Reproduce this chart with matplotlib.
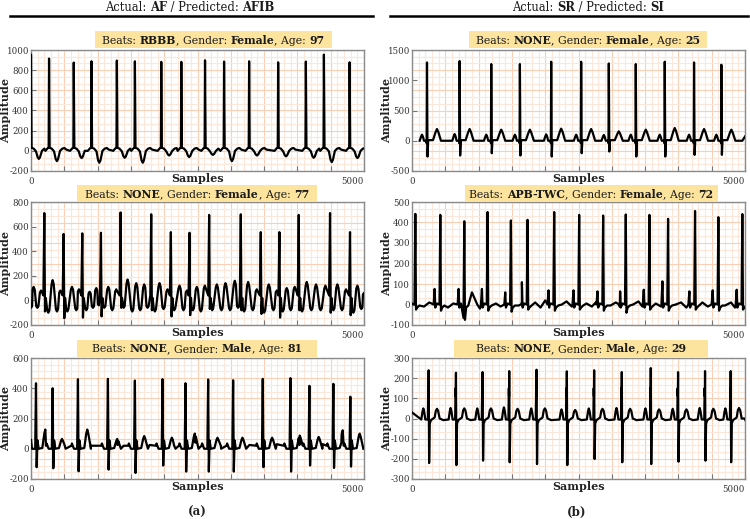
import numpy as np
import matplotlib
matplotlib.use("Agg")
import matplotlib.pyplot as plt
from matplotlib.patches import Rectangle
from matplotlib.lines import Line2D

plt.rcParams['font.family'] = ['DejaVu Serif']
plt.rcParams['axes.unicode_minus'] = False

# ---------------- data ----------------
col_titles = [("AF", "AFIB"), ("SR", "SI")]
panel_info = [  # (beats, gender, age)
    ("RBBB", "Female", "97"), ("NONE", "Female", "25"),
    ("NONE", "Female", "77"), ("APB-TWC", "Female", "72"),
    ("NONE", "Male", "81"), ("NONE", "Male", "29"),
]
yticks_list = [
    [-200, 0, 200, 400, 600, 800, 1000], [-500, 0, 500, 1000, 1500],
    [-200, 0, 200, 400, 600, 800], [-100, 0, 100, 200, 300, 400, 500],
    [-200, 0, 200, 400, 600], [-300, -200, -100, 0, 100, 200, 300],
]
sub_labels = ["(a)", "(b)"]

# Panel A1 (AF, RBBB)
A1_r_t = [0, 271, 642, 908, 1289, 1560, 1956, 2257, 2613, 2899, 3275, 3711, 4127, 4398, 4784]
A1_r_amp = [955, 915, 875, 888, 895, 888, 882, 882, 898, 885, 888, 878, 885, 954, 878]
A1_dip = [-80, -102, -72, -118, -69, -118, -46, -62, -40, -102, -46, -55, -69, -112, -72]

# Panel A2 (AF, NONE, 77)
A2_r_t = [200, 490, 770, 1050, 1345, 1805, 2100, 2380, 2675, 3150, 3450, 3730, 4020, 4490, 4790]
A2_r_amp = [710, 540, 545, 550, 715, 700, 555, 550, 695, 700, 555, 555, 695, 710, 555]
A2_s = [-90, -145, -140, -130, -60, -80, -130, -120, -70, -80, -110, -140, -80, -100, -120]
A2_f_t = [0, 40, 95, 150, 260, 325, 390, 440, 545, 615, 680, 720, 830, 880, 930, 980, 1020,
          1100, 1160, 1220, 1280, 1390, 1450, 1520, 1580, 1640, 1700, 1750, 1860, 1930, 1990,
          2050, 2150, 2230, 2290, 2340, 2430, 2490, 2550, 2610, 2720, 2790, 2860, 2920, 2990,
          3060, 3110, 3200, 3260, 3330, 3390, 3500, 3570, 3640, 3690, 3780, 3840, 3900, 3960,
          4070, 4140, 4210, 4280, 4350, 4420, 4540, 4600, 4670, 4730, 4840, 4900, 4960, 5000]
A2_f_v = [-60, 110, -60, 80, -100, 165, -90, 80, -90, 110, -80, 90, -80, 70, -60, 100, -40,
          -60, 110, -80, 90, -60, 170, -90, 140, -80, 130, -60, -90, 140, -70,
          90, -80, 120, -80, 80, -80, 110, -90, 120, -80, 130, -80, 140, -80,
          160, -60, -90, 150, -80, 90, -100, 130, -80, 80, -90, 100, -80, 110,
          -90, 150, -80, 130, -80, 120, -80, 130, -80, 90, -100, 120, -70, 60]

# Panel A3 (AF, NONE, 81)
A3_r_t = [75, 325, 705, 1155, 1560, 1975, 2320, 2660, 3035, 3480, 3895, 4180, 4540, 4795]
A3_r_amp = [433, 400, 460, 462, 451, 460, 433, 458, 453, 462, 467, 416, 429, 344]
A3_s = [-122, -129, -149, -138, -160, -111, -151, -151, -151, -122, -151, -111, -127, -118]
A3_tw = [127, 65, 127, 65, 84, 73, 100, 73, 73, 73, 87, 78, 122, 100]
A3_x_t = [0, 500, 900, 1300, 1390, 1780, 2150, 2470, 2850, 3280, 3690, 4030, 4380, 4660]
A3_x_v = [60, 30, 20, 25, 20, 25, 20, 40, 20, 25, 30, 25, 30, 40]

# Panel B1 (SR, NONE, 25)
B1_r_t = [225, 715, 1190, 1620, 2090, 2540, 2955, 3360, 3795, 4235, 4645]
B1_r_amp = [1294, 1317, 1267, 1267, 1306, 1306, 1278, 1267, 1306, 1294, 1256]
B1_s = [-261, -244, -206, -244, -261, -206, -178, -261, -261, -233, -233]
B1_tw = [194, 194, 183, 183, 200, 194, 156, 183, 211, 194, 183]
B1_pw = [100, 110, 100, 100, 105, 100, 95, 100, 100, 100, 100]
B1_x_t = [4960, 5000]
B1_x_v = [0, 70]

# Panel B2 (SR, APB-TWC, 72)
B2_r_t = [50, 425, 785, 1135, 1485, 1735, 2135, 2510, 2870, 3210, 3565, 3845, 4250, 4600, 4960]
B2_r_amp = [442, 437, 406, 451, 410, 413, 451, 437, 434, 439, 437, 418, 456, 426, 441]
B2_pre = [59, 76, 76, 76, 59, 109, 69, 69, 64, 64, 72, 113, 64, 69, 72]
B2_q = [0, 0, -65, 0, 0, 0, 0, 0, 0, 0, 0, 0, 0, 0, 0]
B2_s = [-25, -30, -75, -30, -35, -25, -30, -25, -30, -40, -25, -30, -25, -30, -25]
B2_x_t = [180, 260, 540, 620, 900, 980, 1020, 1260, 1330, 1390, 1600, 1650, 1850, 1930,
          2000, 2060, 2250, 2320, 2400, 2620, 2700, 2760, 2980, 3060, 3120, 3320, 3400,
          3460, 3660, 3740, 3960, 4040, 4120, 4170, 4360, 4440, 4500, 4700, 4790, 4850]
B2_x_v = [-10, 10, -15, 5, 59, 0, -20, 5, -10, 15, -5, 10, 10, -15,
          20, -5, 0, 15, -10, 5, -10, 10, -5, 10, -10, 0, 15,
          -10, 5, -10, 0, 10, -15, 5, 10, -10, 5, -5, 10, -15]

# Panel B3 (SR, NONE, 29)
B3_r_t = [250, 660, 1060, 1460, 1870, 2325, 2735, 3150, 3585, 3995, 4400, 4785]
B3_r_amp = [239, 227, 230, 235, 242, 234, 239, 230, 250, 230, 235, 235]
B3_s = [-221, -231, -209, -217, -226, -231, -201, -217, -226, -214, -209, -217]
B3_pw = [50, 52, 50, 55, 50, 45, 50, 52, 50, 48, 52, 50]
B3_tw = [48, 50, 50, 48, 50, 42, 48, 48, 45, 45, 48, 52]
B3_x_t = [0, 4990]
B3_x_v = [30, 0]


# ---------------- waveform assembly ----------------
def assemble(r_t, parts, ex_t=(), ex_v=(), head=-130, guard=(-30, 40), shoulder=0):
    pts = []
    n = len(r_t)
    for i, t in enumerate(r_t):
        prev_t = r_t[i - 1] if i > 0 else -1e9
        next_t = r_t[i + 1] if i < n - 1 else 1e9
        for off, val in parts(i):
            tt = t + off
            if off < 0 and tt <= prev_t + guard[1]:
                continue
            if off > 0 and tt >= next_t + head:
                continue
            pts.append((tt, val))
    for tt, v in zip(ex_t, ex_v):
        if any(t + guard[0] < tt < t + guard[1] for t in r_t):
            continue
        if shoulder:
            for d, f in ((-shoulder, 0.8), (0, 1.0), (shoulder, 0.8)):
                if not any(t + guard[0] < tt + d < t + guard[1] for t in r_t):
                    pts.append((tt + d, v * f))
        else:
            pts.append((tt, v))
    pts.sort()
    arr = np.array(pts, dtype=float)
    return arr[:, 0], arr[:, 1]


def p_A1(i):
    R, D = A1_r_amp[i], A1_dip[i]
    return [(-55, 0), (-22, 25), (-6, 30), (0, R), (9, 30), (40, 22), (75, -5),
            (100, D * 0.8), (118, D), (135, D * 0.8), (165, 0), (200, 22), (230, 28), (260, 12)]


def p_A2(i):
    return [(-14, 40), (0, A2_r_amp[i]), (10, A2_s[i]), (22, 20)]


def p_A3(i):
    return [(-100, 20), (-90, 35), (-78, 20), (-60, 0), (-12, 0), (0, A3_r_amp[i]),
            (10, A3_s[i]), (22, 55), (40, 0), (95, 5), (125, A3_tw[i] * 0.8),
            (140, A3_tw[i]), (155, A3_tw[i] * 0.8), (195, 0)]


def p_B1(i):
    return [(-110, 0), (-88, B1_pw[i] * 0.7), (-75, B1_pw[i]), (-62, B1_pw[i] * 0.7),
            (-45, 0), (-10, 0), (-5, -40), (0, B1_r_amp[i]), (8, B1_s[i]), (18, 10),
            (90, 10), (130, B1_tw[i] * 0.75), (150, B1_tw[i]), (170, B1_tw[i] * 0.75), (210, 0)]


def p_B2(i):
    return [(-100, 0), (-85, B2_pre[i]), (-75, -15), (-50, 5), (-12, B2_q[i]),
            (0, B2_r_amp[i]), (10, B2_s[i]), (28, -15), (60, -5)]


def p_B3(i):
    return [(-110, -5), (-92, B3_pw[i] * 0.7), (-80, B3_pw[i]), (-68, B3_pw[i] * 0.7),
            (-50, -5), (-12, -5), (-6, 150), (-3, 110), (0, B3_r_amp[i]), (7, B3_s[i]),
            (16, -25), (35, -8), (90, 5), (108, B3_tw[i] * 0.8), (125, B3_tw[i]),
            (142, B3_tw[i] * 0.8), (165, 0), (220, -8)]


traces = [
    assemble(A1_r_t, p_A1, head=-70),
    assemble(B1_r_t, p_B1, B1_x_t, B1_x_v),
    assemble(A2_r_t, p_A2, A2_f_t, A2_f_v, head=-20, guard=(-20, 30), shoulder=16),
    assemble(B2_r_t, p_B2, B2_x_t, B2_x_v),
    assemble(A3_r_t, p_A3, A3_x_t, A3_x_v, head=-105),
    assemble(B3_r_t, p_B3, B3_x_t, B3_x_v),
]

# ---------------- layout ----------------
W, H = 750, 519
fig = plt.figure(figsize=(W / 100, H / 100), dpi=100)
renderer = fig.canvas.get_renderer()


def fx(px):
    return px / W


def fy(py):
    return 1 - py / H


def text_width(s, size, weight):
    t1 = fig.text(0, 0, '|' + s + '|', fontsize=size, fontweight=weight)
    t2 = fig.text(0, 0, '||', fontsize=size, fontweight=weight)
    w = t1.get_window_extent(renderer).width - t2.get_window_extent(renderer).width
    t1.remove()
    t2.remove()
    return w


def rich_text(cx, cy, parts, size, color='#1a1a1a', zorder=3):
    widths = [text_width(s, size, 'bold' if b else 'normal') for s, b in parts]
    x = cx - sum(widths) / 2
    for (s, b), w in zip(parts, widths):
        fig.text(fx(x), fy(cy), s, fontsize=size, fontweight='bold' if b else 'normal',
                 ha='left', va='baseline', color=color, zorder=zorder)
        x += w


col_left = [31, 412]
ax_w = 333
rows = [(50, 171), (202, 325), (358, 479)]
boxes = [  # (x0, x1, y0, y1) in px
    (95, 332, 31, 48), (469, 707, 31, 48),
    (77, 317, 185, 202), (465, 718, 185, 202),
    (77, 317, 340, 357), (454, 708, 340, 357),
]

grid_minor = '#fde7da'
grid_major = '#f9cfb5'

for k in range(6):
    r, c = divmod(k, 2)
    top, bot = rows[r]
    ax = fig.add_axes([fx(col_left[c]), fy(bot), fx(ax_w), (bot - top) / H])
    yt = yticks_list[k]
    lo, hi = yt[0], yt[-1]
    # ECG paper grid
    for j, xv in enumerate(range(0, 5001, 100)):
        ax.axvline(xv, color=grid_major if j % 5 == 0 else grid_minor, lw=0.8, zorder=0)
    for j in range(19):
        yv = lo + (hi - lo) * j / 18
        ax.axhline(yv, color=grid_major if j % 3 == 0 else grid_minor, lw=0.8, zorder=0)
    t, v = traces[k]
    ax.plot(t, v, color='black', lw=1.6, zorder=3, solid_joinstyle='round')
    ax.set_xlim(0, 5000)
    ax.set_ylim(lo, hi)
    ax.set_xticks(range(0, 5001, 500))
    ax.set_xticklabels(['0'] + [''] * 9 + ['5000'])
    ax.set_yticks(yt)
    ax.set_yticklabels([str(y) for y in yt])
    ax.tick_params(axis='both', direction='in', length=3.5, width=0.8, color='#777777',
                   labelsize=6.2, labelcolor='#333333')
    ax.tick_params(axis='x', pad=4.5)
    ax.tick_params(axis='y', pad=1.5)
    xl = ax.get_xticklabels()
    xl[-1].set_horizontalalignment('right')
    for s in ax.spines.values():
        s.set_color('#8a8a8a')
        s.set_linewidth(1.0)
    ax.set_xlabel('Samples', fontsize=8.0, fontweight='bold', color='#222222')
    ax.xaxis.set_label_coords(0.5, -0.02)
    ax.set_ylabel('Amplitude', fontsize=8.0, fontweight='bold', color='#222222')
    ax.yaxis.set_label_coords(-0.060, 0.5)

    # info box
    x0, x1, y0, y1 = boxes[k]
    fig.patches.append(Rectangle((fx(x0), fy(y1)), fx(x1 - x0), (y1 - y0) / H,
                                 transform=fig.transFigure, facecolor='#fce39e',
                                 edgecolor='none', zorder=1))
    b, g, a = panel_info[k]
    rich_text((x0 + x1) / 2, y1 - 4.5,
              [("Beats: ", False), (b, True), (", Gender: ", False), (g, True),
               (", Age: ", False), (a, True)], 7.8)

# column titles + rules
title_cx = [190, 588]
rule_x = [(10, 373), (390, 748)]
for c in range(2):
    act, pred = col_titles[c]
    rich_text(title_cx[c], 11,
              [("Actual: ", False), (act, True), (" / Predicted: ", False), (pred, True)], 8.3)
    fig.add_artist(Line2D([fx(rule_x[c][0]), fx(rule_x[c][1])], [fy(16), fy(16)],
                          transform=fig.transFigure, color='black', lw=1.8))

sub_cx = [197, 577]
for c in range(2):
    fig.text(fx(sub_cx[c]), fy(512), sub_labels[c], ha='center', va='center',
             fontsize=8.6, fontweight='bold', color='#222222')

fig.savefig('out.png', dpi=100, facecolor='white')
